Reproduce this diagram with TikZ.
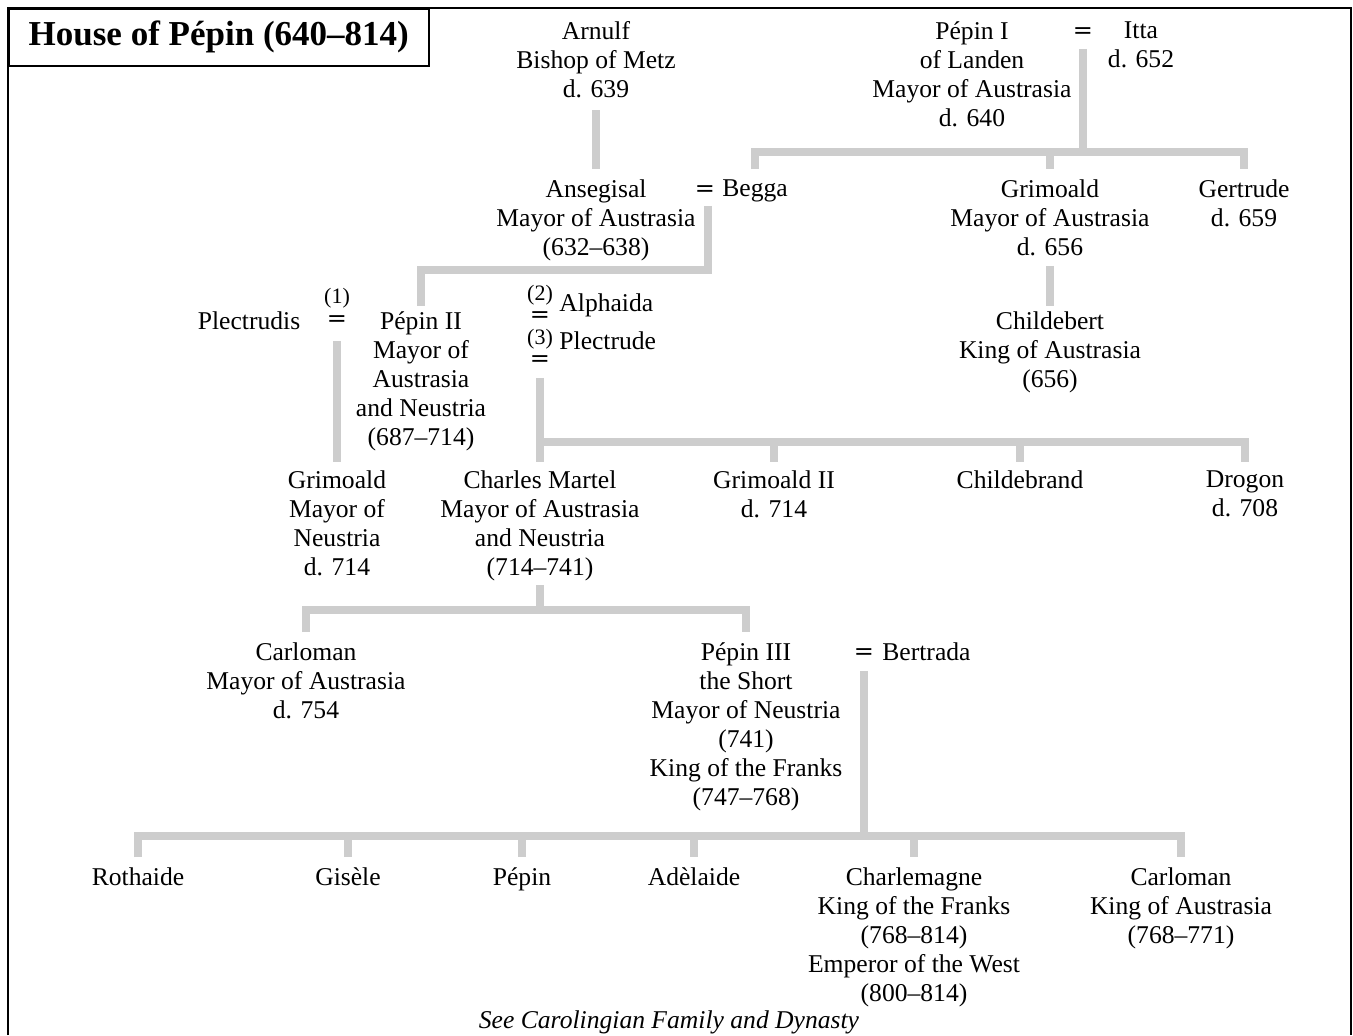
\documentclass[tikz,border=0pt]{standalone}
\usepackage{fontspec}
\setmainfont{Liberation Serif}
\newfontfamily\eqfont{DejaVu Serif}
\definecolor{bargray}{RGB}{205,205,205}

\begin{document}
\begin{tikzpicture}[x=0.5pt, y=-0.5pt,
  person/.style={align=center, anchor=north, inner sep=0pt,
    font=\fontsize{12.8}{14.5}\selectfont},
  spouse/.style={anchor=base west, inner sep=0pt,
    font=\fontsize{12.8}{14.5}\selectfont},
  wed/.style={inner sep=0pt, font=\eqfont\fontsize{12}{14}\selectfont},
  nr/.style={inner sep=0pt, font=\fontsize{11}{13}\selectfont},
  titlebox/.style={draw, line width=0.75pt, anchor=north west,
    minimum width=210pt, minimum height=28.5pt,
    font=\fontsize{17.5}{20}\selectfont\bfseries},
  note/.style={anchor=north, inner sep=0pt,
    font=\fontsize{12.8}{14.5}\selectfont\itshape},
  link/.style={draw=bargray, line width=4pt},
  drop/.style={link, shorten >=5pt}
]
\useasboundingbox (0,0) rectangle (1353,1035);
\draw[line width=1pt] (8,1035) -- (8,8) -- (1351,8) -- (1351,1035);
\node[titlebox] (title) at (8,8) {House of Pépin (640–814)};

\node[person] (arnulf) at (596,21) {Arnulf\\Bishop of Metz\\d. 639};
\node[person] (pepinI) at (972,21) {Pépin I\\of Landen\\Mayor of Austrasia\\d. 640};
\node[wed] (eqA) at (1083,33) {=};
\node[person] (itta) at (1141,21) {Itta\\d. 652};

\node[person] (ansegisal) at (596,179) {Ansegisal\\Mayor of Austrasia\\(632–638)};
\node[wed] (eqB) at (705,191) {=};
\node[person] (begga) at (755,179) {Begga};
\node[person] (grimoaldA) at (1050,179) {Grimoald\\Mayor of Austrasia\\d. 656};
\node[person] (gertrude) at (1244,179) {Gertrude\\d. 659};

\node[person] (plectrudis) at (249,311) {Plectrudis};
\node[nr] (no1) at (337,298) {(1)};
\node[wed] (eqC) at (337,321) {=};
\node[person] (pepinII) at (421,311) {Pépin II\\Mayor of\\Austrasia\\and Neustria\\(687–714)};
\node[nr] (no2) at (540,295) {(2)};
\node[wed] (eqD) at (540,317) {=};
\node[nr] (no3) at (540,339) {(3)};
\node[wed] (eqE) at (540,361) {=};
\node[spouse] (alphaida) at (559,311) {Alphaida};
\node[spouse] (plectrude) at (559,349) {Plectrude};
\node[person] (childebert) at (1050,311) {Childebert\\King of Austrasia\\(656)};

\node[person] (grimoaldB) at (337,470) {Grimoald\\Mayor of\\Neustria\\d. 714};
\node[person] (charles) at (540,470) {Charles Martel\\Mayor of Austrasia\\and Neustria\\(714–741)};
\node[person] (grimoaldII) at (774,470) {Grimoald II\\d. 714};
\node[person] (childebrand) at (1020,470) {Childebrand};
\node[person] (drogon) at (1245,470) {Drogon\\d. 708};

\node[person] (carlomanA) at (306,642) {Carloman\\Mayor of Austrasia\\d. 754};
\node[person] (pepinIII) at (746,642) {Pépin III\\the Short\\Mayor of Neustria\\(741)\\King of the Franks\\(747–768)};
\node[wed] (eqF) at (864,654) {=};
\node[spouse] (bertrada) at (882,660) {Bertrada};

\node[person] (rothaide) at (138,867) {Rothaide};
\node[person] (gisele) at (348,867) {Gisèle};
\node[person] (pepin) at (522,867) {Pépin};
\node[person] (adelaide) at (694,867) {Adèlaide};
\node[person] (charlemagne) at (914,867) {Charlemagne\\King of the Franks\\(768–814)\\Emperor of the West\\(800–814)};
\node[person] (carlomanB) at (1181,867) {Carloman\\King of Austrasia\\(768–771)};
\node[note] (see) at (669,1010) {See Carolingian Family and Dynasty};

\coordinate (famA) at (1083,152);
\coordinate (famB) at (708,270);
\coordinate (famC) at (540,442);
\coordinate (famD) at (540,610);
\coordinate (famE) at (864,836);

\draw[link, shorten <=5pt] (eqA.south) -- (famA);
\draw[drop, shorten <=5pt] (begga.north) -- (begga.north |- famA) -- (gertrude.north |- famA) -- (gertrude.north);
\draw[drop] (famA -| grimoaldA.north) -- (grimoaldA.north);

\draw[drop, shorten <=6pt] (arnulf.south) -- (ansegisal.north);
\draw[link, shorten <=4.5pt, shorten >=2.5pt] (eqB.south -| famB) -- (famB) -- (famB -| pepinII.north) -- (pepinII.north);
\draw[link, shorten <=5pt, shorten >=2.5pt] (grimoaldA.south) -- (childebert.north);

\draw[link, shorten <=7pt, shorten >=4pt] (eqC.south) -- (grimoaldB.north);
\draw[link, shorten <=5.5pt, shorten >=4pt] (eqE.south) -- (charles.north);
\draw[link, shorten >=4pt] (famC) -- (famC -| drogon.north) -- (drogon.north);
\draw[link, shorten >=4pt] (famC -| grimoaldII.north) -- (grimoaldII.north);
\draw[link, shorten >=4pt] (famC -| childebrand.north) -- (childebrand.north);

\draw[link, shorten <=2pt] (charles.south) -- (famD);
\draw[drop, shorten <=5pt] (carlomanA.north) -- (carlomanA.north |- famD) -- (pepinIII.north |- famD) -- (pepinIII.north);

\draw[link, shorten <=5.5pt] (eqF.south) -- (famE);
\draw[drop, shorten <=5pt] (rothaide.north) -- (rothaide.north |- famE) -- (carlomanB.north |- famE) -- (carlomanB.north);
\foreach \kid in {gisele, pepin, adelaide, charlemagne}
  \draw[drop] (famE -| \kid.north) -- (\kid.north);
\end{tikzpicture}
\end{document}
